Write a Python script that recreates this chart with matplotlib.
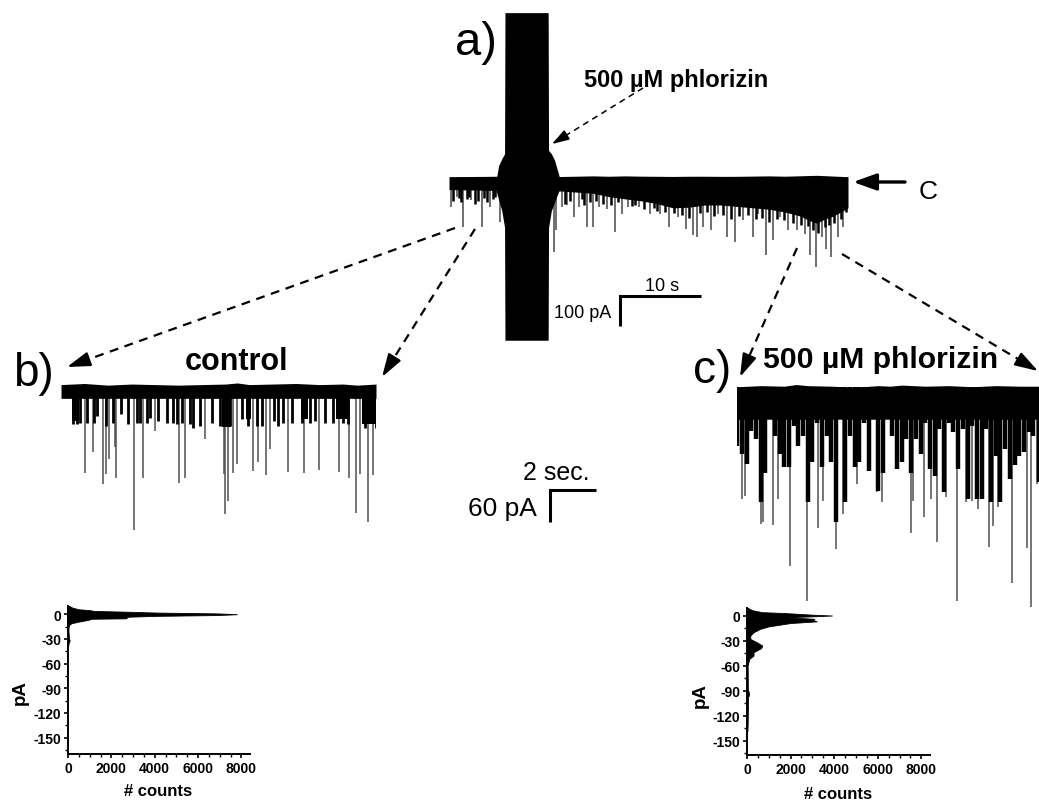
import matplotlib
matplotlib.use('Agg')
import matplotlib.pyplot as plt
import numpy as np
from matplotlib.ticker import MultipleLocator

plt.rcParams['font.family'] = ['Liberation Sans', 'DejaVu Sans']
plt.rcParams['axes.unicode_minus'] = False

W, H = 1039, 803

# trace a) whole recording: time in s, current in pA
a_long_t = [0.2, 1.0, 1.8, 2.8, 4.1, 5.1, 6.4, 13.1, 13.4, 14.1, 14.8, 15.6, 16.2, 17.2, 18.0, 18.7, 19.7, 20.8,
            21.6, 22.4, 23.8, 25.1, 26.4, 27.5, 28.7, 29.7, 30.5, 31.0, 31.8, 32.8, 33.7, 34.8, 35.8, 36.8, 38.0,
            38.7, 39.6, 40.5, 41.4, 42.4, 43.5, 44.5, 45.1, 45.9, 46.6, 47.2, 47.8, 48.7, 49.3]
a_long_i = [-107, -71, -179, -83, -179, -107, -161, -268, -190, -107, -101, -143, -107, -179, -179, -107, -113, -196,
            -131, -107, -107, -131, -131, -179, -143, -185, -208, -214, -179, -190, -131, -214, -232, -155, -214,
            -131, -280, -226, -143, -190, -190, -202, -280, -321, -214, -256, -286, -214, -179]
a_short_t = [0.5, 1.3, 1.5, 2.2, 2.5, 3.2, 3.6, 4.4, 4.7, 5.5, 5.8, 14.5, 15.1, 16.6, 16.9, 17.6, 18.4, 19.2, 20.2,
             21.1, 22.9, 23.3, 24.4, 25.6, 26.0, 27.0, 28.1, 29.2, 30.0, 31.4, 32.3, 33.2, 34.3, 35.3, 36.3, 37.4,
             38.4, 39.1, 40.0, 41.0, 41.9, 43.0, 44.0, 44.9, 45.5, 46.2, 47.0, 47.5, 48.2, 49.0, 49.7]
a_short_i = [-85, -75, -90, -80, -70, -95, -85, -75, -90, -80, -70, -95, -85, -80, -100, -90, -85, -95, -100,
             -90, -105, -100, -115, -110, -120, -125, -130, -135, -145, -130, -125, -140, -135, -150, -140, -135,
             -150, -145, -160, -150, -155, -165, -170, -175, -190, -200, -180, -170, -165, -150, -125]
a_band_t = [0, 6, 14, 18, 20, 22, 24, 26, 28, 30, 32, 34, 36, 38, 40, 42, 44, 45, 46, 47, 48, 49, 49.9]
a_band_i = [-45, -48, -50, -58, -70, -78, -85, -95, -110, -108, -100, -100, -105, -110, -115, -125, -140, -155,
            -165, -150, -140, -125, -110]
a_top_t = [0, 5, 10, 15, 18, 19, 22, 24, 28, 31, 35, 40, 41, 46, 49.9]
a_top_i = [1, 3, 1, 2, 4, 2, 4, 3, 2, 3, 2, 4, 2, 6, 1]

# drug application artefact
art_t = [5.9, 6.0, 6.2, 6.6, 6.95, 7.0, 12.4, 12.45, 12.8, 13.2, 13.6, 13.8]
art_hi = [0, 5, 40, 65, 83, 587, 587, 95, 83, 60, 20, 0]
art_lo = [-50, -60, -80, -120, -180, -583, -583, -180, -120, -90, -60, -45]

# trace b) control
b_long_t = [1.02, 1.38, 1.77, 1.91, 2.06, 2.30, 2.34, 3.12, 3.50, 4.00, 5.04, 5.29, 6.13, 6.94, 6.98, 7.09, 7.33,
            7.48, 8.18, 8.37, 8.71, 8.87, 9.67, 10.35, 10.99, 11.83, 12.27, 12.54, 12.72, 13.05, 13.29]
b_long_i = [-158, -121, -179, -161, -133, -112, -167, -262, -167, -82, -176, -167, -97, -161, -233, -209, -158,
            -142, -155, -139, -162, -115, -156, -158, -153, -156, -167, -232, -161, -248, -162]
b_comb_t = [0.50, 0.70, 0.81, 1.12, 1.42, 1.55, 1.91, 2.20, 2.54, 2.87, 3.22, 3.36, 3.65, 3.79, 4.14, 4.50, 4.75,
            4.92, 5.13, 5.49, 5.63, 5.91, 6.41, 6.77, 7.19, 7.69, 7.97, 8.33, 8.54, 9.04, 9.25, 9.43, 9.82, 10.24,
            10.60, 10.81, 11.23, 11.59, 12.01, 12.23, 12.94, 13.40]
b_comb_i = [-70, -70, -67, -67, -67, -55, -73, -67, -52, -70, -67, -67, -67, -58, -64, -67, -67,
            -70, -67, -70, -76, -73, -67, -73, -73, -61, -73, -73, -73, -64, -73, -67, -67, -67,
            -67, -64, -67, -67, -67, -70, -76, -76]
b_block_t = [0.45, 0.75, 6.85, 7.25, 7.85, 8.10, 10.20, 10.50, 11.70, 12.20, 12.80, 13.40]
b_block_i = [-65, -65, -75, -75, -60, -60, -60, -60, -60, -60, -70, -70]
b_top_t = [0, 1, 2, 3, 4, 5, 6, 7, 7.5, 8, 9, 10, 11, 12, 12.6, 13.4]
b_top_i = [2, 4, 1, 3, 2, 1, 2, 3, 5, 2, 3, 4, 2, 3, 1, 3]

# trace c) 500 uM phlorizin
c_long_t = [0.21, 0.33, 0.99, 1.11, 1.50, 1.74, 2.24, 2.95, 3.42, 3.66, 4.20, 4.51, 5.08, 5.93, 6.17, 7.38, 7.49,
            7.96, 8.23, 8.48, 8.88, 9.36, 9.73, 9.97, 10.26, 10.72, 10.87, 11.11, 11.67, 12.31, 12.51, 12.74]
c_long_i = [-203, -197, -248, -244, -250, -203, -325, -388, -255, -206, -294, -230, -176, -191, -208, -265, -206,
            -236, -203, -282, -200, -388, -208, -206, -221, -291, -252, -218, -356, -293, -399, -176]
c_env_t = [0.0, 0.2, 0.4, 0.6, 0.8, 1.0, 1.2, 1.4, 1.6, 1.8, 2.0, 2.2, 2.4, 2.6, 2.8, 3.0, 3.2, 3.4, 3.6, 3.8, 4.0,
           4.2, 4.4, 4.6, 4.8, 5.0, 5.2, 5.4, 5.6, 5.8, 6.0, 6.2, 6.4, 6.6, 6.8, 7.0, 7.2, 7.4, 7.6, 7.8, 8.0, 8.2,
           8.4, 8.6, 8.8, 9.0, 9.2, 9.4, 9.6, 9.8, 10.0, 10.2, 10.4, 10.6, 10.8, 11.0, 11.2, 11.4, 11.6, 11.8,
           12.0, 12.2, 12.4, 12.6, 12.84]
c_env_i = [-106, -121, -139, -79, -94, -209, -155, -58, -88, -121, -145, -145, -70, -106, -88, -209, -136, -64, -145,
           -88, -136, -245, -58, -209, -88, -145, -136, -64, -152, -58, -188, -155, -58, -88, -148, -136, -94, -155,
           -94, -121, -64, -148, -161, -76, -191, -64, -82, -148, -76, -203, -70, -203, -203, -76, -209, -124, -209,
           -112, -167, -142, -124, -118, -82, -88, -173]
c_top_t = [0, 1, 2, 2.5, 3, 4, 5, 6, 6.5, 7, 8, 9, 10, 11, 12, 12.84]
c_top_i = [1, 3, 2, 5, 3, 2, 0, 3, 2, 4, 2, 3, 1, 3, 2, 2]

# amplitude histograms
hist_b_i = [10, 8, 6, 5, 4, 3, 2, 1, 0, -1, -2, -3, -4, -5, -5.5, -7, -9, -11, -13, -15, -20, -30, -32, -35, -40]
hist_b_n = [60, 200, 500, 1000, 1200, 2800, 4100, 6900, 7800, 6900, 4100, 2800, 2700, 2700, 1100, 900, 500, 150, 60,
            30, 20, 50, 80, 30, 0]
hist_c_i = [10, 8, 6, 4, 3, 1, 0, -1, -2, -3, -4, -5, -7, -9, -11, -13, -16, -20, -24, -28, -32, -36, -39, -44, -48,
            -52, -60, -88, -94, -98, -130, -138, -140]
hist_c_n = [20, 100, 300, 700, 1700, 3000, 3900, 3000, 1800, 2500, 3100, 3000, 3200, 2000, 1500, 1000, 600, 300, 150,
            150, 450, 700, 650, 300, 300, 100, 30, 40, 100, 50, 30, 20, 0]
hist_yticks = [0, -30, -60, -90, -120, -150]
hist_xticks = [0, 2000, 4000, 6000, 8000]

fig = plt.figure(figsize=(W / 100, H / 100), dpi=100, facecolor='white')


def px_axes(left, top, right, bottom):
    return fig.add_axes([left / W, 1 - bottom / H, (right - left) / W, (bottom - top) / H])


def trace_axes(left, right, zero, y_scale, xmax, ymin, ymax):
    ax = px_axes(left, zero - ymax * y_scale, right, zero - ymin * y_scale)
    ax.set_xlim(0, xmax)
    ax.set_ylim(ymin, ymax)
    ax.axis('off')
    return ax


def hist_axes(left, right, top, bottom, ymin, ymax, counts, amps, label_x, label_y, xlab_x, xlab_y):
    ax = px_axes(left, top, right, bottom)
    ax.fill_betweenx(amps, 0, counts, color='black', lw=0.6)
    ax.set_xlim(0, 8400)
    ax.set_ylim(ymin, ymax)
    for s in ['top', 'right']:
        ax.spines[s].set_visible(False)
    for s in ['left', 'bottom']:
        ax.spines[s].set_linewidth(1.4)
    ax.set_xticks(hist_xticks)
    ax.set_yticks(hist_yticks)
    ax.xaxis.set_minor_locator(MultipleLocator(500))
    ax.yaxis.set_minor_locator(MultipleLocator(15))
    ax.tick_params(which='major', length=3, width=1.2, labelsize=10, pad=2)
    ax.tick_params(which='minor', length=2, width=1)
    for t in ax.get_xticklabels() + ax.get_yticklabels():
        t.set_fontweight('bold')
    ax.set_xlabel('# counts', fontsize=12, fontweight='bold', va='center')
    ax.set_ylabel('pA', fontsize=13.5, fontweight='bold', va='center')
    ax.xaxis.set_label_coords(xlab_x, xlab_y)
    ax.yaxis.set_label_coords(label_x, label_y)
    ax.patch.set_alpha(0)
    return ax


# a)
ax_a = trace_axes(449, 848, 178, 0.28, 49.9, -596, 618)
ax_a.vlines(a_long_t, 0, a_long_i, color='#484848', lw=1.1)
ax_a.vlines(a_short_t, 0, a_short_i, color='black', lw=1.8)
ax_a.fill_between(a_band_t, a_band_i, np.interp(a_band_t, a_top_t, a_top_i), color='black', lw=0, zorder=3)
ax_a.fill_between(art_t, art_lo, art_hi, color='black', lw=0, zorder=3)

# b)
ax_b = trace_axes(61, 376, 386.7, 0.55, 13.4, -270, 30)
ax_b.vlines(b_long_t, 0, b_long_i, color='#505050', lw=1.1)
ax_b.vlines(b_comb_t, 0, b_comb_i, color='black', lw=2.0)
for i in range(0, len(b_block_t), 2):
    ax_b.fill_between(b_block_t[i:i + 2], b_block_i[i:i + 2], 0, color='black', lw=0, zorder=3)
ax_b.fill_between(b_top_t, -23, b_top_i, color='black', lw=0, zorder=3)

# c)
ax_c = trace_axes(737.3, 1039, 388.3, 0.55, 12.84, -410, 30)
ax_c.vlines(c_long_t, 0, c_long_i, color='#505050', lw=1.1)
ax_c.vlines(c_env_t, 0, c_env_i, color='black', lw=3.2)
ax_c.fill_between(c_top_t, -58, c_top_i, color='black', lw=0, zorder=3)

# histograms
hist_axes(68, 250, 607, 755, -170, 10, hist_b_n, hist_b_i, -0.264, 0.42, 0.495, -0.25)
hist_axes(747, 930, 609, 756, -167, 9, hist_c_n, hist_c_i, -0.257, 0.41, 0.497, -0.265)

# overlay in pixel coordinates for lettering, arrows and scale bars
ov = fig.add_axes([0, 0, 1, 1])
ov.set_xlim(0, W)
ov.set_ylim(H, 0)
ov.axis('off')
ov.patch.set_alpha(0)

ov.text(455, 55, 'a)', fontsize=34, va='baseline')
ov.text(13, 386, 'b)', fontsize=33, va='baseline')
ov.text(693, 383, 'c)', fontsize=33, va='baseline')
ov.text(584, 87, '500 µM phlorizin', fontsize=17, fontweight='bold', va='baseline')
ov.text(185, 370, 'control', fontsize=22, fontweight='bold', va='baseline')
ov.text(763, 368, '500 µM phlorizin', fontsize=21.7, fontweight='bold', va='baseline')
ov.text(919, 199, 'C', fontsize=19, va='baseline')
ov.text(645, 291, '10 s', fontsize=13, va='baseline')
ov.text(554, 318, '100 pA', fontsize=13, va='baseline')
ov.text(523, 480, '2 sec.', fontsize=18, va='baseline')
ov.text(468, 516, '60 pA', fontsize=19, va='baseline')


def dash_arrow(x0, y0, x1, y1, lw=1.6, head=20, head_px=16):
    # dashed shaft, then a solid head so the head outline does not break up
    d = np.hypot(x1 - x0, y1 - y0)
    hx = x1 - (x1 - x0) * head_px / d
    hy = y1 - (y1 - y0) * head_px / d
    ov.plot([x0, hx], [y0, hy], color='black', lw=lw, linestyle=(0, (4, 3)), clip_on=False)
    ov.annotate('', xy=(x1, y1), xytext=(hx, hy), annotation_clip=False,
                arrowprops=dict(arrowstyle='-|>,head_length=0.7,head_width=0.22', lw=lw, color='black',
                                mutation_scale=head, shrinkA=0, shrinkB=0))


dash_arrow(643, 89, 552, 145, lw=1.1, head=15, head_px=12)
dash_arrow(455, 229, 67, 368)
dash_arrow(475, 230, 382, 378)
dash_arrow(797, 249, 740, 378)
dash_arrow(842, 255, 1038, 372)
ov.annotate('', xy=(853, 183), xytext=(905, 183),
            arrowprops=dict(arrowstyle='-|>,head_length=0.7,head_width=0.25', lw=2.4, color='black',
                            mutation_scale=20, shrinkA=0, shrinkB=0))

ov.plot([701, 620, 620], [297, 297, 327], color='black', lw=2.2, solid_joinstyle='miter', solid_capstyle='butt')
ov.plot([596, 550, 550], [491, 491, 523], color='black', lw=2.2, solid_joinstyle='miter', solid_capstyle='butt')

fig.savefig('out.png', dpi=100)
